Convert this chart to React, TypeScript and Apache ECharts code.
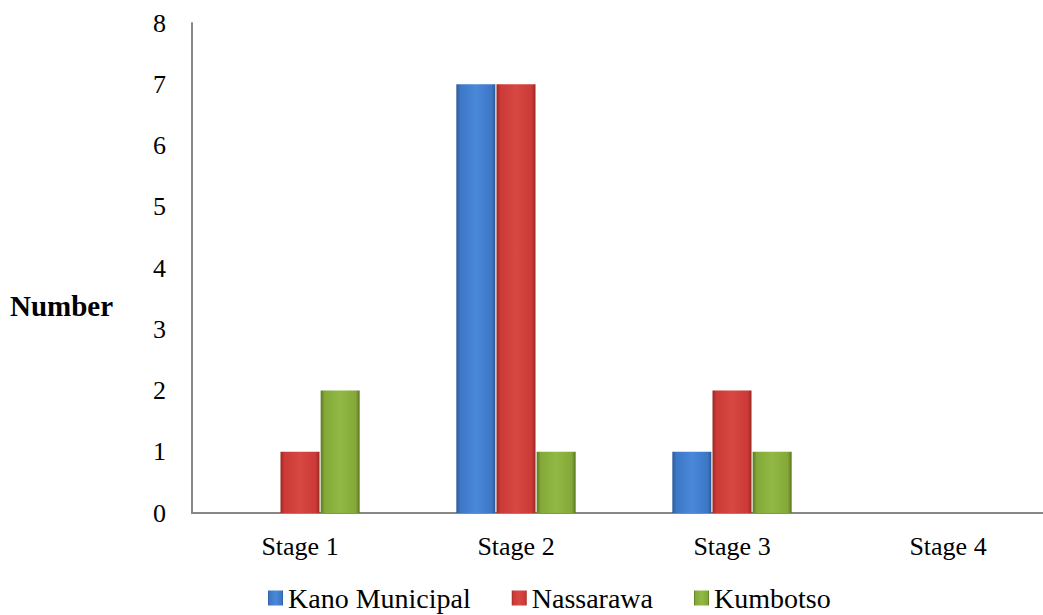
import React, { useEffect, useRef } from "react";
import * as echarts from "echarts";

const categories = ["Stage 1", "Stage 2", "Stage 3", "Stage 4"];
const kanoMunicipal = [0, 7, 1, 0];
const nassarawa = [1, 7, 2, 0];
const kumbotso = [2, 1, 1, 0];
const yTicks = { min: 0, max: 8, interval: 1 };

const font = "'Liberation Serif', 'Times New Roman', serif";

function grad(dark: string, mid: string, light: string) {
  return new echarts.graphic.LinearGradient(0, 0, 1, 0, [
    { offset: 0, color: dark },
    { offset: 0.1, color: mid },
    { offset: 0.5, color: light },
    { offset: 0.9, color: mid },
    { offset: 1, color: dark },
  ]);
}

export default function App() {
  const ref = useRef<HTMLDivElement>(null);
  useEffect(() => {
    const chart = echarts.init(ref.current!, null, { renderer: "svg" });
    const blue = grad("#2c5a98", "#3d77c6", "#4a88da");
    const red = grad("#9a2824", "#cb3a36", "#d84843");
    const green = grad("#5a7820", "#83a838", "#92b845");
    const mk = (name: string, data: number[], color: any) => ({
      name,
      type: "bar",
      data,
      barWidth: 39,
      barGap: "3%",
      itemStyle: { color, borderWidth: 0 },
    });
    chart.setOption({
      animation: false,
      grid: { left: 192, top: 23, width: 864, height: 490, containLabel: false },
      legend: {
        top: 584,
        left: 268,
        padding: 0,
        itemWidth: 15,
        itemHeight: 15,
        itemGap: 41,
        icon: "rect",
        textStyle: { fontFamily: font, fontSize: 28, lineHeight: 28, color: "#000" },
        data: ["Kano Municipal", "Nassarawa", "Kumbotso"],
      },
      xAxis: {
        type: "category",
        data: categories,
        axisLine: { lineStyle: { color: "#888", width: 2 } },
        axisTick: { show: false },
        axisLabel: { fontFamily: font, fontSize: 26, color: "#000", margin: 20 },
      },
      yAxis: {
        type: "value",
        min: yTicks.min,
        max: yTicks.max,
        interval: yTicks.interval,
        axisLine: { show: true, lineStyle: { color: "#888", width: 2 } },
        axisTick: { show: false },
        splitLine: { show: false },
        axisLabel: { fontFamily: font, fontSize: 26, color: "#000", margin: 26 },
      },
      graphic: [
        {
          type: "text",
          left: 10,
          top: 291,
          style: { text: "Number", font: `bold 29px ${font}`, fill: "#000" },
        },
      ],
      series: [
        mk("Kano Municipal", kanoMunicipal, blue),
        mk("Nassarawa", nassarawa, red),
        mk("Kumbotso", kumbotso, green),
      ],
    });
    return () => chart.dispose();
  }, []);
  return (
    <div
      ref={ref}
      style={{ position: "fixed", left: 0, top: 0, width: 1070, height: 615, background: "#fff" }}
    />
  );
}
